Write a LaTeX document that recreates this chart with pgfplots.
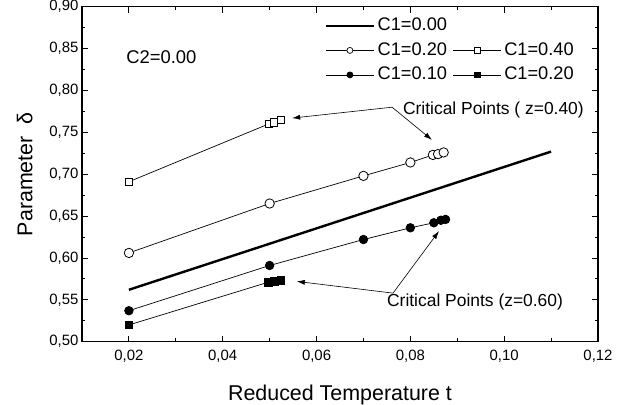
\documentclass[border=0pt]{standalone}
\usepackage{fontspec}
\setmainfont{Liberation Sans}
\usepackage{pgfplots}
\pgfplotsset{compat=1.18}
\usetikzlibrary{arrows.meta}
\begin{document}
\begin{tikzpicture}
\begin{axis}[
  scale only axis, width=516bp, height=335bp,
  xmin=0.01, xmax=0.12, ymin=0.5, ymax=0.9,
  xtick={0.02,0.04,0.06,0.08,0.10,0.12},
  ytick={0.50,0.55,0.60,0.65,0.70,0.75,0.80,0.85,0.90},
  minor x tick num=1, minor y tick num=1,
  tick align=inside, xtick pos=both, ytick pos=both,
  major tick length=6bp, minor tick length=3.5bp,
  every tick/.style={black, line width=0.9bp},
  axis line style={line width=1.2bp},
  /pgf/number format/assume math mode=true,
  tick label style={font=\fontsize{15}{17}\selectfont, /pgf/number format/fixed, /pgf/number format/fixed zerofill, /pgf/number format/precision=2, /pgf/number format/use comma},
  xticklabel style={yshift=-5bp},
  scaled ticks=false,
  xlabel={Reduced Temperature t}, ylabel={Parameter\ \ δ},
  label style={font=\fontsize{21.5}{24}\selectfont},
  xlabel style={at={(axis description cs:0.5,-0.158)}, anchor=center},
  ylabel style={at={(axis description cs:-0.111,0.5)}, anchor=center},
  legend columns=2,
  legend style={draw=none, fill=none, at={(axis description cs:0.470,0.9746)}, anchor=north west,
    font=\fontsize{18.3}{21}\selectfont, row sep=3.5bp, inner sep=0bp,
    nodes={inner sep=2.5bp, text height=13bp, text depth=3bp},
    /tikz/every even column/.append style={column sep=3.5bp}},
  legend image code/.code={\draw[mark repeat=2,mark phase=2,#1] plot coordinates {(0bp,0bp) (24bp,0bp) (48bp,0bp)};},
]
% thick line C1=0.00
\addplot[black, line width=2.4bp, forget plot] coordinates {(0.02,0.562) (0.11,0.727)};
% open squares C1=0.40
\addplot[black, line width=0.7bp, mark=square*, mark size=3.8bp, mark options={fill=white, line width=0.8bp}, forget plot]
  coordinates {(0.02,0.691) (0.0498,0.760) (0.0509,0.762) (0.0524,0.765)};
% open circles C1=0.20
\addplot[black, line width=0.7bp, mark=*, mark size=4.7bp, mark options={fill=white, line width=0.8bp}, forget plot]
  coordinates {(0.02,0.606) (0.05,0.665) (0.07,0.698) (0.08,0.714) (0.0848,0.723) (0.0859,0.724) (0.0871,0.726)};
% filled circles C1=0.10
\addplot[black, line width=0.7bp, mark=*, mark size=4.3bp, mark options={fill=black}, forget plot]
  coordinates {(0.02,0.537) (0.05,0.591) (0.07,0.622) (0.08,0.636) (0.085,0.642) (0.0865,0.645) (0.0875,0.646)};
% filled squares C1=0.20
\addplot[black, line width=0.7bp, mark=square*, mark size=3.8bp, mark options={fill=black}, forget plot]
  coordinates {(0.02,0.520) (0.0497,0.571) (0.0510,0.572) (0.0524,0.573)};

\addlegendimage{black, line width=2.4bp}
\addlegendentry{C1=0.00}
\addlegendimage{empty legend}
\addlegendentry{}
\addlegendimage{black, line width=0.7bp, mark=*, mark size=3bp, mark options={fill=white}}
\addlegendentry{C1=0.20}
\addlegendimage{black, line width=0.7bp, mark=square*, mark size=2.6bp, mark options={fill=white}}
\addlegendentry{C1=0.40}
\addlegendimage{black, line width=0.7bp, mark=*, mark size=3bp, mark options={fill=black}}
\addlegendentry{C1=0.10}
\addlegendimage{black, line width=0.7bp, mark=square*, mark size=2.6bp, mark options={fill=black}}
\addlegendentry{C1=0.20}

\node[anchor=west, font=\fontsize{18.5}{21}\selectfont, inner sep=0pt] at (axis cs:0.0194,0.840) {C2=0.00};
\node[anchor=west, font=\fontsize{17.5}{20}\selectfont, inner sep=0pt] at (axis cs:0.0784,0.777) {Critical Points ( z=0.40)};
\node[anchor=west, font=\fontsize{17.5}{20}\selectfont, inner sep=0pt] at (axis cs:0.0750,0.547) {Critical Points (z=0.60)};
\draw[-{Latex[length=8bp,width=5bp]}, line width=0.6bp] (axis cs:0.0761,0.780) -- (axis cs:0.0548,0.767);
\draw[-{Latex[length=8bp,width=5bp]}, line width=0.6bp] (axis cs:0.0761,0.780) -- (axis cs:0.0846,0.741);
\draw[-{Latex[length=8bp,width=5bp]}, line width=0.6bp] (axis cs:0.0763,0.558) -- (axis cs:0.0558,0.572);
\draw[-{Latex[length=8bp,width=5bp]}, line width=0.6bp] (axis cs:0.0763,0.558) -- (axis cs:0.0861,0.632);
\end{axis}
\pgfresetboundingbox
\path[use as bounding box] (current axis.south west) ++(-82bp,-63.3bp) rectangle ++(635bp,405bp);
\end{tikzpicture}
\end{document}
